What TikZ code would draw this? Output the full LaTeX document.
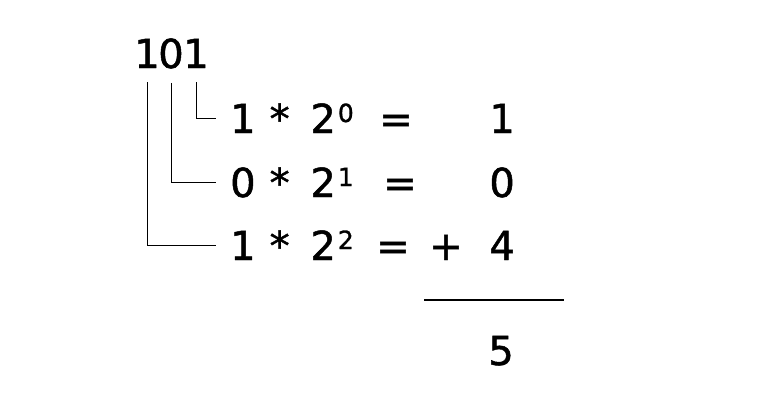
\documentclass[tikz,border=0pt]{standalone}
\usepackage{fontspec}
\setmainfont[FakeBold=1.2,AutoFakeBold=1.2]{DejaVu Sans}
\usetikzlibrary{positioning}
\newcommand{\pw}[1]{\raisebox{11pt}{\fontsize{25pt}{25pt}\selectfont #1}}
\begin{document}
\begin{tikzpicture}[x=1pt, y=-1pt,
  big/.style={font=\fontsize{40pt}{40pt}\selectfont\bfseries, inner sep=0pt},
  term/.style={big, anchor=base west, inner xsep=14pt},
  wire/.style={line width=1pt, black}]

\useasboundingbox (0,0) rectangle (759,408);

% Binary number
\node[big, anchor=base] (d2) at (147, 68) {1};
\node[big, anchor=base] (d1) at (171, 68) {0};
\node[big, anchor=base] (d0) at (196, 68) {1};

% Terms
\node[term] (r0) at (216, 133) {1\hspace{0.35em}*\hspace{0.52em}2\hspace{0.05em}\pw{0}};
\node[term] (r1) at (216, 197) {0\hspace{0.35em}*\hspace{0.52em}2\hspace{0.05em}\pw{1}};
\node[term] (r2) at (216, 260) {1\hspace{0.35em}*\hspace{0.52em}2\hspace{0.05em}\pw{2}};

% Equals signs
\node[big, anchor=base] (e0) at (396, 133) {=};
\node[big, anchor=base] (e1) at (400, 197) {=};
\node[big, anchor=base] (e2) at (393, 260) {=};

% Values
\node[big, anchor=base east] (v0) at (515, 133) {1};
\node[big, anchor=base east] (v1) at (515, 197) {0};
\node[big, anchor=base east] (v2) at (515, 260) {4};
\node[big, anchor=base] (plus) at (446, 260) {+};

% Sum
\coordinate (ls) at (424, 300);
\coordinate (le) at (564, 300);
\draw[line width=2pt] (ls) -- (le);
\node[big, anchor=base east] (sum) at (514, 365) {5};

% Connectors
\draw[wire] ([yshift=-14pt]d0.south) |- (r0.west);
\draw[wire] ([yshift=-14pt]d1.south) |- (r1.west);
\draw[wire] ([yshift=-14pt]d2.south) |- (r2.west);

\end{tikzpicture}
\end{document}
